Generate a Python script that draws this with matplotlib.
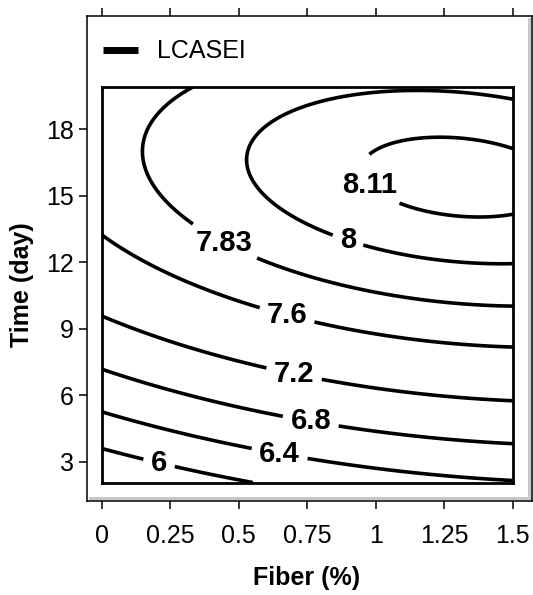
import numpy as np
import matplotlib
matplotlib.use('Agg')
import matplotlib.pyplot as plt
from matplotlib.patches import Rectangle
from matplotlib.lines import Line2D

plt.rcParams['font.family'] = ['Liberation Sans', 'DejaVu Sans']

# ---------------- data ----------------
fiber_pts = [0.0, 0.5, 1.0, 1.5]          # Fiber (%)
time_pts = [2, 8, 14, 20]                  # Time (day)
# response read at each (fiber, time) point; rows = fiber, cols = time
response = [
    [5.564, 6.950, 7.651, 7.668],
    [5.950, 7.278, 7.923, 7.883],
    [6.216, 7.487, 8.074, 7.977],
    [6.361, 7.575, 8.105, 7.951],
]
levels = [6, 6.4, 6.8, 7.2, 7.6, 7.83, 8, 8.11]
level_labels = ['6', '6.4', '6.8', '7.2', '7.6', '7.83', '8', '8.11']
x_ticks = [0, 0.25, 0.5, 0.75, 1, 1.25, 1.5]
x_ticklabels = ['0', '0.25', '0.5', '0.75', '1', '1.25', '1.5']
y_ticks = [3, 6, 9, 12, 15, 18]
legend_label = 'LCASEI'
# label anchor points (data coords)
label_pos = [(0.21, 2.98), (0.65, 3.42), (0.76, 4.62), (0.70, 6.84),
             (0.68, 9.79), (0.455, 13.08), (0.906, 13.27), (0.967, 15.37)]

# ---------------- figure ----------------
W, H = 533, 595
fig = plt.figure(figsize=(W / 100, H / 100), dpi=100)


def fx(px):
    return px / W


def fy(py):
    return 1 - py / H


# pixel <-> data mapping of the reference
x0p, xscale = 101.7, 274.0
y3p, yscale = 461.7, 22.16


def dx(px):
    return (px - x0p) / xscale


def dy(py):
    return 3 + (y3p - py) / yscale


# outer frame axes (carries the ticks)
oL, oR, oT, oB = 86.7, 532.0, 16.0, 501.0
ax2 = fig.add_axes([fx(oL), fy(oB), (oR - oL) / W, (oB - oT) / H])
ax2.set_xlim(dx(oL), dx(oR))
ax2.set_ylim(dy(oB), dy(oT))
ax2.set_xticks(x_ticks)
ax2.set_xticklabels(x_ticklabels)
ax2.set_yticks(y_ticks)
ax2.tick_params(axis='x', direction='out', length=5.8, width=1.1, labelsize=18,
                pad=11, top=True, bottom=True, labeltop=False)
ax2.tick_params(axis='y', direction='out', length=5.8, width=1.1, labelsize=18,
                pad=3.5, left=True, right=False)
for s in ax2.spines.values():
    s.set_linewidth(1.1)
    s.set_color('black')

# grey shadow inside outer frame
fig.add_artist(Rectangle((fx(527.7), fy(500)), 3.5 / W, (500 - 18) / H,
                         transform=fig.transFigure, color='#c8c8c8', lw=0, zorder=3))
fig.add_artist(Rectangle((fx(89), fy(500)), (531 - 89) / W, 3.3 / H,
                         transform=fig.transFigure, color='#c8c8c8', lw=0, zorder=3))

# inner contour axes
iL, iR, iT, iB = 101.7, 512.7, 86.5, 482.5
ax = fig.add_axes([fx(iL), fy(iB), (iR - iL) / W, (iB - iT) / H], zorder=5)
ax.set_xlim(0, 1.5)
ax.set_ylim(dy(iB), dy(iT))
ax.set_xticks([])
ax.set_yticks([])
for s in ax.spines.values():
    s.set_linewidth(2.0)
    s.set_color('black')

# fit the response surface (second-order model) through the read values
F, T = np.meshgrid(np.array(fiber_pts), np.array(time_pts), indexing='ij')
Zr = np.array(response)
f, t, z = F.ravel(), T.ravel(), Zr.ravel()
A = np.column_stack([np.ones_like(f), f, t, f ** 2, t ** 2, f * t])
coef, *_ = np.linalg.lstsq(A, z, rcond=None)

xs = np.linspace(0, 1.5, 401)
ys = np.linspace(dy(iB), dy(iT), 481)
XX, YY = np.meshgrid(xs, ys)
ZZ = (coef[0] + coef[1] * XX + coef[2] * YY + coef[3] * XX ** 2
      + coef[4] * YY ** 2 + coef[5] * XX * YY)

cs = ax.contour(XX, YY, ZZ, levels=levels, colors='black', linewidths=2.6)
fmt = {lv: lb for lv, lb in zip(cs.levels, level_labels)}
with plt.rc_context({'font.weight': 'bold'}):
    labels = ax.clabel(cs, cs.levels, fmt=fmt, manual=label_pos, inline=True,
                       inline_spacing=8, fontsize=21)
for tx in labels:
    tx.set_rotation(0)
    tx.set_fontweight('bold')

# legend
fig.add_artist(Line2D([fx(103), fx(138)], [fy(50), fy(50)], color='black',
                      lw=5, solid_capstyle='butt', transform=fig.transFigure))
fig.text(fx(157), fy(51), legend_label, fontsize=18, va='center', ha='left')

# axis titles
fig.text(fx(22), fy(284.5), 'Time (day)', rotation=90, fontsize=18,
         fontweight='bold', ha='center', va='center')
fig.text(fx(307), fy(585), 'Fiber (%)', fontsize=18, fontweight='bold',
         ha='center', va='baseline')

fig.savefig('out.png', dpi=100)
